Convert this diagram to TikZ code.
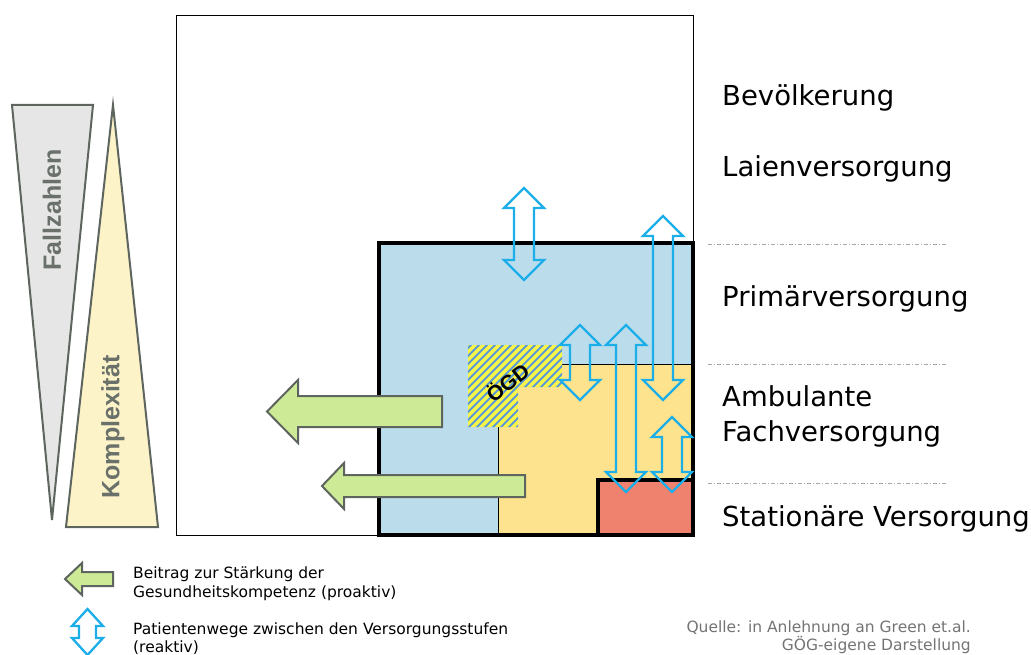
\documentclass[tikz,border=0pt]{standalone}
\usepackage{fontspec}
\setmainfont{DejaVu Sans}
\newfontfamily\boldsans{Liberation Sans}
\definecolor{primblue}{HTML}{BADCEB}
\definecolor{ambyellow}{HTML}{FDE38E}
\definecolor{statred}{HTML}{EF826F}
\definecolor{greenfill}{HTML}{CDEB96}
\definecolor{arrcyan}{HTML}{1BAEE8}
\definecolor{trigray}{HTML}{E6E6E6}
\definecolor{triline}{HTML}{5E655E}
\definecolor{triyellow}{HTML}{FDF3C9}
\definecolor{tritext}{HTML}{6A716A}
\definecolor{hatchyellow}{HTML}{F8F548}
\definecolor{hatchblue}{HTML}{5B9BD5}
\definecolor{srcgray}{HTML}{747474}
\newcommand{\dblarr}[5]{%
  \draw[patharrow] (#1,#2) -- ({#1+#4},{#2+20}) -- ({#1+#5},{#2+20}) -- ({#1+#5},{#3-20}) -- ({#1+#4},{#3-20}) -- (#1,#3) -- ({#1-#4},{#3-20}) -- ({#1-#5},{#3-20}) -- ({#1-#5},{#2+20}) -- ({#1-#4},{#2+20}) -- cycle;}
\begin{document}
\begin{tikzpicture}[x=1pt,y=-1pt,
  patharrow/.style={draw=arrcyan,line width=2.3pt,line join=miter},
  greenarrow/.style={draw=triline,fill=greenfill,line width=2pt,line join=miter},
  thickbox/.style={draw=black,line width=3.5pt},
  thinline/.style={draw=black,line width=0.9pt},
  levelsep/.style={draw=gray!70,line width=0.8pt,dash pattern=on 4pt off 2pt on 1pt off 2pt},
  levellabel/.style={anchor=base west,inner sep=0pt,font=\fontsize{27.5}{30}\selectfont},
  legendtext/.style={anchor=base west,inner sep=0pt,font=\fontsize{15.5}{19}\selectfont},
  srctext/.style={anchor=base east,inner sep=0pt,text=srcgray,font=\fontsize{15.5}{18}\selectfont},
  tritextstyle/.style={text=tritext,inner sep=0pt,rotate=90,font=\boldsans\bfseries\fontsize{25}{27}\selectfont}]
\useasboundingbox (0,0) rectangle (1031,655);
\fill[white] (0,0) rectangle (1031,655);
% triangles
\draw[draw=triline,fill=trigray,line width=2pt,line join=miter] (12,105) -- (93,105) -- (52,520) -- cycle;
\draw[draw=triline,fill=triyellow,line width=2pt,line join=miter] (113,105) -- (158,527) -- (66,527) -- cycle;
\node[tritextstyle] (fall) at (52,210) {Fallzahlen};
\node[tritextstyle] (kompl) at (113,427) {Komplexität};
% outer box
\draw[thinline] (176,15) rectangle (693,535);
% primary care
\fill[primblue] (379,243) rectangle (693,535);
% ambulant
\fill[ambyellow] (498,364) rectangle (693,535);
\draw[thinline] (561,364) -- (693,364);
\draw[thinline] (498,420) -- (498,535);
% hatch ÖGD
\begin{scope}
  \clip (468,345) -- (562,345) -- (562,387) -- (518,387) -- (518,427) -- (468,427) -- cycle;
  \fill[hatchyellow] (460,340) rectangle (570,430);
  \foreach \i in {360,368,...,570} {\draw[hatchblue,line width=1.9pt] (\i,432) -- ({\i+100},332);}
\end{scope}
\node[rotate=38,inner sep=0pt,font=\boldsans\bfseries\fontsize{21}{23}\selectfont] (ogd) at (507,382) {ÖGD};
% stationary
\fill[statred] (598,480) rectangle (693,535);
\draw[thickbox] (598,480) rectangle (693,535);
\draw[thickbox] (379,243) rectangle (693,535);
% green arrows
\draw[greenarrow] (442,396) -- (298,396) -- (298,380) -- (267,411.5) -- (298,443) -- (298,427) -- (442,427) -- cycle;
\draw[greenarrow] (525,475) -- (344,475) -- (344,463) -- (322,486) -- (344,509) -- (344,497) -- (525,497) -- cycle;
% blue double arrows
\dblarr{524}{188}{280}{20}{10}
\dblarr{663}{216}{400}{20}{10}
\dblarr{580}{325}{400}{20}{10}
\dblarr{626}{325}{492}{20}{10}
\dblarr{672}{417}{492}{20}{10}
% level separators
\coordinate (s1a) at (708,244); \coordinate (s1b) at (947,244);
\coordinate (s2a) at (708,364); \coordinate (s2b) at (947,364);
\coordinate (s3a) at (708,483); \coordinate (s3b) at (947,483);
\draw[levelsep] (s1a) -- (s1b);
\draw[levelsep] (s2a) -- (s2b);
\draw[levelsep] (s3a) -- (s3b);
% labels
\node[levellabel] (bev) at (722,106) {Bevölkerung};
\node[levellabel] (laien) at (722,177) {Laienversorgung};
\node[levellabel] (prim) at (722,306) {Primärversorgung};
\node[levellabel] (amb) at (722,406) {Ambulante};
\node[levellabel] (fach) at (722,441) {Fachversorgung};
\node[levellabel] (stat) at (722,526) {Stationäre Versorgung};
% legend
\draw[greenarrow] (113,572) -- (82,572) -- (82,563) -- (65,579) -- (82,595) -- (82,586) -- (113,586) -- cycle;
\draw[patharrow] (87.5,609) -- (103,626) -- (96,626) -- (96,638) -- (103,638) -- (87.5,655) -- (72,638) -- (79,638) -- (79,626) -- (72,626) -- cycle;
\node[legendtext] (leg1a) at (133,578) {Beitrag zur Stärkung der};
\node[legendtext] (leg1b) at (133,597) {Gesundheitskompetenz (proaktiv)};
\node[legendtext] (leg2a) at (133,634) {Patientenwege zwischen den Versorgungsstufen};
\node[legendtext] (leg2b) at (133,652) {(reaktiv)};
% source
\node[srctext] (src1) at (971,632) {Quelle: in Anlehnung an Green et.al.};
\node[srctext] (src2) at (971,650) {GÖG-eigene Darstellung};
\end{tikzpicture}
\end{document}
